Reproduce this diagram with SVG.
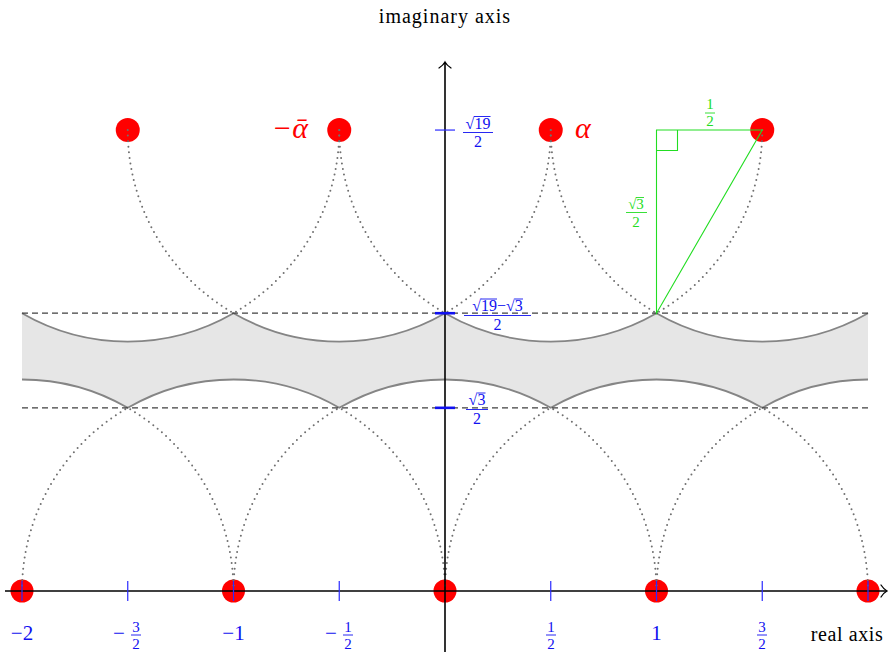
<svg xmlns="http://www.w3.org/2000/svg" width="888" height="656" viewBox="0 0 888 656">
<style>
.t{font-family:"Liberation Serif","Times New Roman",serif;}
.bl{fill:#1010f0;}
.gr{fill:#22dd22;}
.dot{fill:none;stroke:#707070;stroke-width:2;stroke-linecap:round;stroke-dasharray:0 5.6;}
.sol{fill:none;stroke:#858585;stroke-width:1.8;}
.dash{stroke:#404040;stroke-width:1.2;stroke-dasharray:6 4;}
.tick{stroke:#2a2aff;stroke-width:1.2;}
.bar{stroke:#1010f0;stroke-width:0.9;}
.gbar{stroke:#22dd22;stroke-width:0.9;}
.pt{fill:#ff0000;}
.arr{fill:none;stroke:#000;stroke-width:1.3;stroke-linecap:round;}
</style>
<rect width="888" height="656" fill="#fff"/>
<g id="region">
<path d="M22 313.22 A211.5 211.5 0 0 0 233.5 313.22 A211.5 211.5 0 0 0 445 313.22 A211.5 211.5 0 0 0 656.5 313.22 A211.5 211.5 0 0 0 868 313.22 L868 379.5 A211.5 211.5 0 0 0 762.25 407.83 A211.5 211.5 0 0 0 550.75 407.83 A211.5 211.5 0 0 0 339.25 407.83 A211.5 211.5 0 0 0 127.75 407.83 A211.5 211.5 0 0 0 22 379.5 Z" fill="#e6e6e6"/>
</g>
<g id="points">
<circle id="p-2" class="pt" cx="22" cy="591" r="11.5"/>
<circle id="p-1" class="pt" cx="233.5" cy="591" r="11.5"/>
<circle id="p0" class="pt" cx="445" cy="591" r="11.5"/>
<circle id="p1" class="pt" cx="656.5" cy="591" r="11.5"/>
<circle id="p2" class="pt" cx="868" cy="591" r="11.5"/>
<circle id="q-3" class="pt" cx="127.75" cy="130.05" r="12"/>
<circle id="q-1" class="pt" cx="339.25" cy="130.05" r="12"/>
<circle id="q1" class="pt" cx="550.75" cy="130.05" r="12"/>
<circle id="q3" class="pt" cx="762.25" cy="130.05" r="12"/>
</g>
<g id="connectors">
<g id="boundary">
<path class="sol" d="M22 313.22 A211.5 211.5 0 0 0 233.5 313.22 A211.5 211.5 0 0 0 445 313.22 A211.5 211.5 0 0 0 656.5 313.22 A211.5 211.5 0 0 0 868 313.22"/>
<path class="sol" d="M868 379.5 A211.5 211.5 0 0 0 762.25 407.83 A211.5 211.5 0 0 0 550.75 407.83 A211.5 211.5 0 0 0 339.25 407.83 A211.5 211.5 0 0 0 127.75 407.83 A211.5 211.5 0 0 0 22 379.5"/>
</g>
<g id="dotted">
<path class="dot" d="M339.25 130.05 A211.5 211.5 0 0 1 233.5 313.22"/>
<path class="dot" d="M127.75 130.05 A211.5 211.5 0 0 0 233.5 313.22"/>
<path class="dot" d="M550.75 130.05 A211.5 211.5 0 0 1 445 313.22"/>
<path class="dot" d="M339.25 130.05 A211.5 211.5 0 0 0 445 313.22"/>
<path class="dot" d="M762.25 130.05 A211.5 211.5 0 0 1 656.5 313.22"/>
<path class="dot" d="M550.75 130.05 A211.5 211.5 0 0 0 656.5 313.22"/>
<path class="dot" d="M233.5 591 A211.5 211.5 0 0 0 127.75 407.83"/>
<path class="dot" d="M22 591 A211.5 211.5 0 0 1 127.75 407.83"/>
<path class="dot" d="M445 591 A211.5 211.5 0 0 0 339.25 407.83"/>
<path class="dot" d="M233.5 591 A211.5 211.5 0 0 1 339.25 407.83"/>
<path class="dot" d="M656.5 591 A211.5 211.5 0 0 0 550.75 407.83"/>
<path class="dot" d="M445 591 A211.5 211.5 0 0 1 550.75 407.83"/>
<path class="dot" d="M868 591 A211.5 211.5 0 0 0 762.25 407.83"/>
<path class="dot" d="M656.5 591 A211.5 211.5 0 0 1 762.25 407.83"/>
</g>
<g id="dashed">
<line class="dash" x1="22" y1="313.22" x2="868" y2="313.22"/>
<line class="dash" x1="22" y1="407.83" x2="868" y2="407.83"/>
</g>
<g id="triangle" fill="none" stroke="#22dd22" stroke-width="1.1">
<path d="M656.5 313.22 L656.5 130.05 L762.25 130.05 Z"/>
<path d="M656.5 150.5 H677.5 V130.05"/>
</g>
<g id="axes">
<line x1="5" y1="591" x2="886" y2="591" stroke="#000" stroke-width="1.6"/>
<line x1="445" y1="652" x2="445" y2="63" stroke="#000" stroke-width="1.6"/>
<path class="arr" d="M881 585 Q884 589.5 887 591 Q884 592.5 881 597"/>
<path class="arr" d="M439 68 Q443.5 65 445 62 Q446.5 65 451 68"/>
</g>
<g id="ticks">
<line class="tick" x1="22" y1="581" x2="22" y2="601"/>
<line class="tick" x1="127.75" y1="581" x2="127.75" y2="601"/>
<line class="tick" x1="233.5" y1="581" x2="233.5" y2="601"/>
<line class="tick" x1="339.25" y1="581" x2="339.25" y2="601"/>
<line class="tick" x1="550.75" y1="581" x2="550.75" y2="601"/>
<line class="tick" x1="656.5" y1="581" x2="656.5" y2="601"/>
<line class="tick" x1="762.25" y1="581" x2="762.25" y2="601"/>
<line class="tick" x1="868" y1="581" x2="868" y2="601"/>
<line class="tick" x1="435" y1="130.05" x2="455" y2="130.05"/>
<line x1="435" y1="313.22" x2="455" y2="313.22" stroke="#1010f0" stroke-width="2.6"/>
<line x1="435" y1="407.83" x2="455" y2="407.83" stroke="#1010f0" stroke-width="2.6"/>
</g>
</g>
<g id="labels" class="t">
<text x="445" y="23" font-size="20" letter-spacing="1" text-anchor="middle">imaginary axis</text>
<text x="847" y="641" font-size="20" letter-spacing="0.6" text-anchor="middle">real axis</text>
<text x="22" y="640" font-size="21" class="bl" text-anchor="middle">−2</text>
<text x="233.5" y="640" font-size="21" class="bl" text-anchor="middle">−1</text>
<text x="656.5" y="640" font-size="21" class="bl" text-anchor="middle">1</text>
<g font-size="15" class="bl" text-anchor="middle">
<text x="119" y="640" font-size="21">−</text>
<text x="136" y="631.5">3</text>
<line class="bar" x1="131" y1="635" x2="141" y2="635"/>
<text x="136" y="649">2</text>
<text x="331" y="640" font-size="21">−</text>
<text x="348" y="631.5">1</text>
<line class="bar" x1="343" y1="635" x2="353" y2="635"/>
<text x="348" y="649">2</text>
<text x="551" y="631.5">1</text>
<line class="bar" x1="546" y1="635" x2="556" y2="635"/>
<text x="551" y="649">2</text>
<text x="762" y="631.5">3</text>
<line class="bar" x1="757" y1="635" x2="767" y2="635"/>
<text x="762" y="649">2</text>
</g>
<g font-size="16" class="bl" text-anchor="middle">
<text x="478" y="128.5">√19</text>
<line class="bar" x1="474" y1="116.5" x2="490.5" y2="116.5"/>
<line class="bar" x1="463" y1="132.5" x2="493" y2="132.5"/>
<text x="478" y="147">2</text>
<text x="497.5" y="311">√19−√3</text>
<line class="bar" x1="481" y1="299" x2="497" y2="299"/>
<line class="bar" x1="515" y1="299" x2="523" y2="299"/>
<line class="bar" x1="464" y1="315.5" x2="531" y2="315.5"/>
<text x="497.5" y="329.5">2</text>
<text x="477" y="405">√3</text>
<line class="bar" x1="477.5" y1="393" x2="485.5" y2="393"/>
<line class="bar" x1="466" y1="409.5" x2="488" y2="409.5"/>
<text x="477" y="423.5">2</text>
</g>
<g font-size="15" class="gr" text-anchor="middle">
<text x="710" y="108.5">1</text>
<line class="gbar" x1="705" y1="113" x2="715" y2="113"/>
<text x="710" y="126">2</text>
<text x="636" y="209">√3</text>
<line class="gbar" x1="636" y1="197.5" x2="644" y2="197.5"/>
<line class="gbar" x1="626" y1="212.5" x2="647" y2="212.5"/>
<text x="636" y="227">2</text>
</g>
<text x="575" y="138" font-size="30" font-style="italic" fill="#ff0000">α</text>
<text x="308" y="138" font-size="30" font-style="italic" fill="#ff0000" text-anchor="end">−ᾱ</text>
</g>
</svg>
